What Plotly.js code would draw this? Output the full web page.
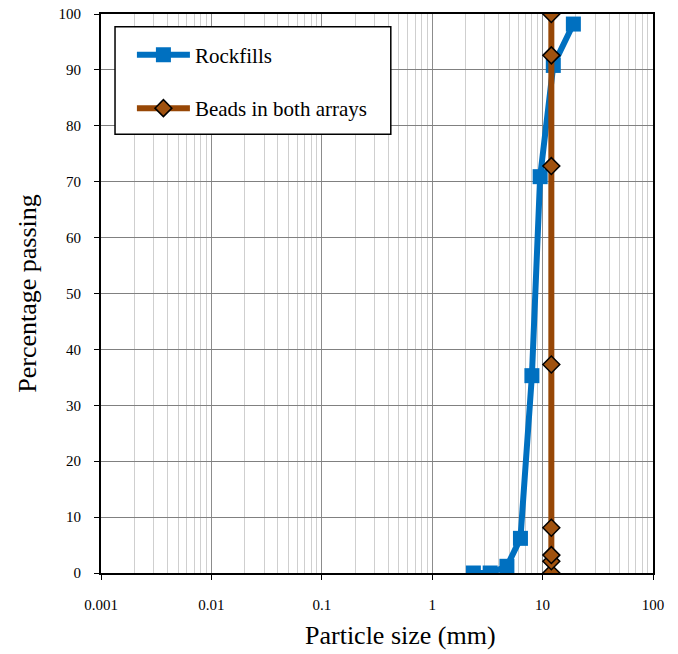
<!DOCTYPE html>
<html>
<head>
<meta charset="utf-8">
<script src="https://cdn.plot.ly/plotly-3.0.1.min.js"></script>
<style>html,body{margin:0;padding:0;background:#fff;}#chart{width:678px;height:654px;}</style>
</head>
<body>
<div id="chart"></div>
<script>
const rockSize = [2.36, 3.35, 4.75, 6.3, 8, 9.5, 12.5, 19];
const rockPass = [0, 0, 1.2, 6.2, 35.3, 70.9, 90.8, 98.2];
const beadSize = [12, 12, 12, 12, 12, 12, 12, 12];
const beadPass = [0, 2.1, 3.2, 8.1, 37.3, 72.8, 92.6, 100];
const xTickVals = [0.001, 0.01, 0.1, 1, 10, 100];
const xTickText = ["0.001", "0.01", "0.1", "1", "10", "100"];

const minorVals = [];
for (let e = -3; e < 2; e++) {
  for (let m = 2; m <= 9; m++) minorVals.push(m * Math.pow(10, e));
}

const traces = [
  {
    x: rockSize, y: rockPass, name: "Rockfills", type: "scatter", mode: "lines+markers",
    line: {color: "#0070C0", width: 6},
    marker: {symbol: "square", size: 15, color: "#0070C0"},
    legendgroup: "a"
  },
  {
    x: beadSize, y: beadPass, name: "Beads in both arrays", type: "scatter", mode: "lines+markers",
    line: {color: "#974706", width: 6},
    marker: {symbol: "diamond", size: 13, color: "#A0520F", line: {color: "#000", width: 1.5}},
    legendgroup: "b"
  }
];

const serif = "Liberation Serif, Times New Roman, serif";
const layout = {
  width: 678, height: 654,
  margin: {l: 101, r: 25, t: 14, b: 81},
  paper_bgcolor: "#fff", plot_bgcolor: "#fff",
  font: {family: serif, color: "#000", size: 15},
  showlegend: true,
  legend: {
    x: 0.056, y: 0.963, xanchor: "left", yanchor: "top",
    bgcolor: "rgba(0,0,0,0)", borderwidth: 0,
    font: {size: 21, family: serif},
    tracegroupgap: 23, traceorder: "grouped",
    itemwidth: 53
  },
  shapes: [{
    type: "rect", xref: "paper", yref: "paper",
    x0: 0.0254, x1: 0.525, y0: 0.785, y1: 0.977,
    fillcolor: "#fff", line: {color: "#000", width: 1.5}, layer: "above"
  }],
  annotations: [{
    text: "Particle size (mm)", xref: "paper", yref: "paper",
    x: 0.543, y: -0.1127, xanchor: "center", yanchor: "middle",
    showarrow: false, font: {size: 26, family: serif, color: "#000"}
  }],
  xaxis: {
    type: "log", range: [-3, 2],
    tickmode: "array", tickvals: xTickVals, ticktext: xTickText,
    ticks: "outside", ticklen: 5, tickcolor: "#000", tickwidth: 1,
    ticklabelstandoff: 12,
    showgrid: true, gridcolor: "#8c8c8c", gridwidth: 1,
    minor: {tickmode: "array", tickvals: minorVals, showgrid: true, gridcolor: "#cfcfcf", gridwidth: 1, ticks: ""},
    showline: true, linecolor: "#000", linewidth: 2, mirror: true,
    zeroline: false
  },
  yaxis: {
    range: [0, 100], dtick: 10, tick0: 0,
    ticks: "outside", ticklen: 5, tickcolor: "#000", tickwidth: 1,
    ticklabelstandoff: 10,
    showgrid: true, gridcolor: "#808080", gridwidth: 1,
    showline: true, linecolor: "#000", linewidth: 2, mirror: true,
    zeroline: false,
    title: {text: "Percentage passing", font: {size: 26}, standoff: 14}
  }
};

Plotly.newPlot("chart", traces, layout, {displayModeBar: false, staticPlot: true});
</script>
</body>
</html>
